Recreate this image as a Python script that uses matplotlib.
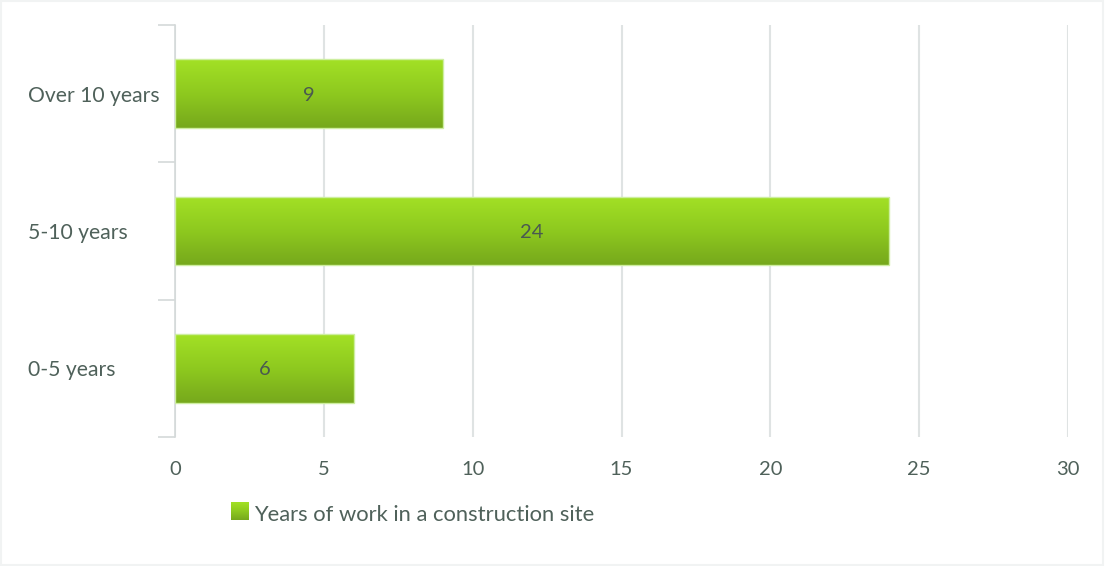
import numpy as np
import matplotlib.pyplot as plt
from matplotlib.patches import Rectangle
from matplotlib.colors import LinearSegmentedColormap

# data
categories = ['0-5 years', '5-10 years', 'Over 10 years']
values = [6, 24, 9]
series_name = 'Years of work in a construction site'
xticks = [0, 5, 10, 15, 20, 25, 30]

txt_color = '#4f615a'
grid_color = '#dfe3e3'
green = LinearSegmentedColormap.from_list('g', ['#a3e125', '#8ec91f', '#76a81c'])

plt.rcParams['font.family'] = ['Lato', 'DejaVu Sans']

fig = plt.figure(figsize=(11.05, 5.66), dpi=100)
ax = fig.add_axes([175 / 1105, 1 - 437 / 566, (1068 - 175) / 1105, (437 - 25) / 566])

y = np.arange(len(categories))
bars = ax.barh(y, values, height=0.5, facecolor='none', edgecolor='#cdeea0',
               linewidth=1.0, zorder=3)

# vertical gradient inside each bar
grad = np.linspace(0, 1, 256).reshape(-1, 1)
for b in bars:
    x0, y0, w, h = b.get_x(), b.get_y(), b.get_width(), b.get_height()
    im = ax.imshow(grad, cmap=green, aspect='auto', origin='lower',
                   extent=[x0, x0 + w, y0 + h, y0], zorder=2,
                   interpolation='bilinear')
    im.set_clip_path(b)
    ax.text(x0 + w / 2, y0 + h / 2, str(b.get_width()), ha='center',
            va='center_baseline', fontsize=14.5, color='#4a5a50', zorder=4)

ax.set_xlim(0, 30)
ax.set_ylim(-0.5, len(categories) - 0.5)
ax.set_xticks(xticks)
ax.set_xticklabels([str(t) for t in xticks], fontsize=14.5, color=txt_color)
ax.tick_params(axis='x', length=0, pad=17)
ax.xaxis.grid(True, color=grid_color, linewidth=1.5, zorder=0)
ax.set_axisbelow(True)

# category labels at centres, tick marks at the band boundaries
ax.set_yticks(np.arange(-0.5, len(categories)), labels=[''] * (len(categories) + 1))
ax.set_yticks(y, labels=categories, minor=True)
ax.tick_params(axis='y', which='major', length=12, color='#d4d9d9', width=1.2)
ax.tick_params(axis='y', which='minor', length=0, pad=106, labelsize=15.2,
               labelcolor=txt_color)
for lab in ax.get_yticklabels(minor=True):
    lab.set_horizontalalignment('left')

for s in ['top', 'right', 'bottom']:
    ax.spines[s].set_visible(False)
ax.spines['left'].set_color('#d4d9d9')
ax.spines['left'].set_linewidth(1.2)

# legend with a gradient swatch
lx, ly, ls = 231 / 1105, 1 - 520 / 566, 18
lax = fig.add_axes([lx, ly, ls / 1105, ls / 566])
lax.imshow(grad, cmap=green, aspect='auto', origin='upper', interpolation='bilinear')
lax.set_axis_off()
fig.text(254 / 1105, 1 - 513 / 566, series_name, ha='left', va='center_baseline',
         fontsize=15.8, color=txt_color)

# faint chart border
fig.patches.append(Rectangle((0.001, 0.001), 0.997, 0.997, transform=fig.transFigure,
                             fill=False, edgecolor='#f1f3f3', linewidth=1.5))

fig.savefig('out.png', dpi=100)
